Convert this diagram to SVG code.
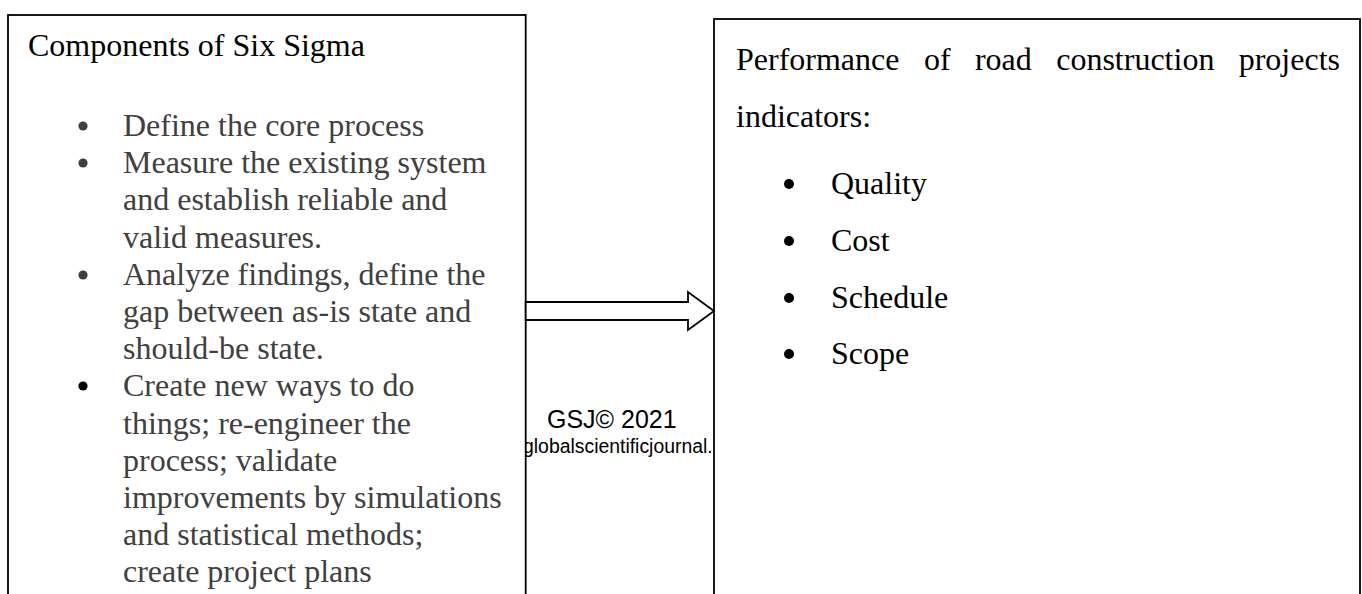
<svg xmlns="http://www.w3.org/2000/svg" width="1362" height="594" viewBox="0 0 1362 594">
  <style>
    .box { fill: #ffffff; stroke: #000000; stroke-width: 1.8; }
    .title { font-family: "Liberation Serif", "Times New Roman", serif; font-size: 32px; fill: #000000; }
    .item { font-family: "Liberation Serif", "Times New Roman", serif; font-size: 32px; fill: #404040; }
    .item-dark { font-family: "Liberation Serif", "Times New Roman", serif; font-size: 32px; fill: #000000; }
    .mark { font-family: "Liberation Sans", Arial, sans-serif; fill: #000000; }
    .arrow { fill: #ffffff; stroke: #000000; stroke-width: 1.8; stroke-linejoin: miter; }
  </style>

  <!-- watermark sitting between the two boxes -->
  <g id="watermark">
    <text class="mark" x="547" y="428" font-size="25">GSJ© 2021</text>
    <text class="mark" x="523" y="453" font-size="19.4">globalscientificjournal.</text>
  </g>

  <!-- left box: components of six sigma -->
  <g id="six-sigma">
    <rect class="box" x="8" y="15" width="517.7" height="600"/>
    <text class="title" x="28" y="56">Components of Six Sigma</text>
    <g fill="#404040">
      <circle cx="83" cy="126" r="4.6"/>
      <circle cx="83" cy="163" r="4.6"/>
      <circle cx="83" cy="275" r="4.6"/>
    </g>
    <circle cx="83" cy="386" r="4.6" fill="#000000"/>
    <text class="item" x="123" y="136">Define the core process</text>
    <text class="item" x="123" y="173.2">Measure the existing system</text>
    <text class="item" x="123" y="210.4">and establish reliable and</text>
    <text class="item" x="123" y="247.6">valid measures.</text>
    <text class="item" x="123" y="284.8">Analyze findings, define the</text>
    <text class="item" x="123" y="322">gap between as-is state and</text>
    <text class="item" x="123" y="359.2">should-be state.</text>
    <text class="item" x="123" y="396.4">Create new ways to do</text>
    <text class="item" x="123" y="433.6">things; re-engineer the</text>
    <text class="item" x="123" y="470.8">process; validate</text>
    <text class="item" x="123" y="508">improvements by simulations</text>
    <text class="item" x="123" y="545.2">and statistical methods;</text>
    <text class="item" x="123" y="582.4">create project plans</text>
  </g>

  <!-- right box: performance indicators -->
  <g id="performance">
    <rect class="box" x="714" y="19" width="646" height="600"/>
    <text class="title" y="70">
      <tspan x="736">Performance</tspan>
      <tspan x="923.9">of</tspan>
      <tspan x="974.9">road</tspan>
      <tspan x="1056.2">construction</tspan>
      <tspan x="1238.7">projects</tspan>
    </text>
    <text class="title" x="736" y="127">indicators:</text>
    <g fill="#000000">
      <circle cx="789" cy="184" r="5"/>
      <circle cx="789" cy="241" r="5"/>
      <circle cx="789" cy="298" r="5"/>
      <circle cx="789" cy="354" r="5"/>
    </g>
    <text class="item-dark" x="831" y="194">Quality</text>
    <text class="item-dark" x="831" y="251">Cost</text>
    <text class="item-dark" x="831" y="308">Schedule</text>
    <text class="item-dark" x="831" y="364">Scope</text>
  </g>

  <!-- block arrow from the left box to the right box -->
  <g id="connectors">
    <polygon class="arrow" points="525.7,302 688,302 688,292 714,311 688,330 688,320 525.7,320"/>
  </g>
</svg>
